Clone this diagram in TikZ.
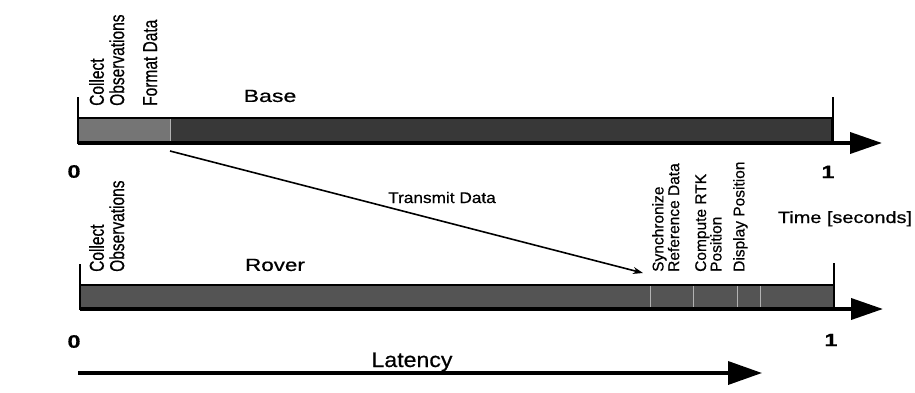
\documentclass[tikz,border=0pt]{standalone}
\usepackage{fontspec}
\setmainfont{Liberation Sans}[FakeBold=0.6]
\usetikzlibrary{arrows.meta,positioning}
\definecolor{barDark}{gray}{0.22}
\definecolor{barMid}{gray}{0.46}
\definecolor{barRover}{gray}{0.33}
\definecolor{barSplit}{gray}{0.7}
\newcommand{\widetext}[2]{\scalebox{#1}[1]{#2}}
\newcommand{\fatstack}[2]{\scalebox{1}[#1]{\begin{tabular}{@{}l@{}}#2\end{tabular}}}

\begin{document}
\begin{tikzpicture}[x=1pt,y=-1pt,
  axis/.style={line width=3.8pt,-{Triangle[length=32pt,width=21pt]}},
  tickline/.style={line width=2pt},
  bar/.style={draw,line width=1.4pt},
  split/.style={barSplit,line width=0.8pt},
  phase/.style={rotate=90,anchor=north west,inner sep=0pt},
  title/.style={inner sep=0pt,font=\fontsize{17.5}{20}\selectfont},
  digit/.style={inner sep=0pt,font=\bfseries\fontsize{18}{20}\selectfont}]
\useasboundingbox (0,0) rectangle (915,393);
% base timeline
\fill[barMid] (78,118) rectangle (170,143); \fill[barDark] (170,118) rectangle (832,143);
\draw[split] (170,119) -- (170,142);
\draw[bar] (78,118) rectangle (832,143);
\coordinate (b0) at (78,143); \coordinate (b1) at (833,143); \coordinate (bend) at (882,143);
\draw[tickline] (b0) -- ++(0,-46); \draw[tickline] (b1) -- ++(0,-46);
\draw[axis] (b0) -- (bend);
\node[phase,font=\fontsize{15.5}{14.6}\selectfont] (basecollect) at (89,106) {\fatstack{1.3}{Collect\\Observations}};
\node[phase,font=\fontsize{15.5}{14.6}\selectfont] (baseformat) at (143,106) {\fatstack{1.3}{Format Data}};
\node[title] (basettl) at (270,96) {\widetext{1.32}{Base}};
\node[digit] (bzero) at (74,171.5) {\widetext{1.3}{0}};
\node[digit] (bone) at (828,172) {\widetext{1.3}{1}};
% rover timeline
\fill[barRover] (80,285) rectangle (834,309);
\foreach \sx in {650,693,737,760} \draw[split] (\sx,286) -- (\sx,308);
\draw[bar] (80,285) rectangle (834,309);
\coordinate (r0) at (80,309); \coordinate (r1) at (834,309); \coordinate (rend) at (883,309);
\draw[tickline] (r0) -- ++(0,-45); \draw[tickline] (r1) -- ++(0,-46);
\draw[axis] (r0) -- (rend);
\node[phase,font=\fontsize{15.5}{14.6}\selectfont] (rovcollect) at (89,272) {\fatstack{1.3}{Collect\\Observations}};
\node[phase,font=\fontsize{15.5}{15}\selectfont] (rovsync) at (652,272) {\fatstack{1}{Synchronize\\Reference Data}};
\node[phase,font=\fontsize{15.5}{14}\selectfont] (rovrtk) at (695,272) {\fatstack{1}{Compute RTK\\Position}};
\node[phase,font=\fontsize{15.5}{15}\selectfont] (rovdisp) at (733,272) {\fatstack{1}{Display Position}};
\node[title] (rovttl) at (275,265) {\widetext{1.28}{Rover}};
\node[digit] (rzero) at (74,341.5) {\widetext{1.3}{0}};
\node[digit] (rone) at (831,340) {\widetext{1.3}{1}};
% data link
\coordinate (sendpt) at (170,151); \coordinate (syncin) at (643,273);
\draw[line width=1.6pt,-{Stealth[length=10pt,width=7pt]}] (sendpt) -- (syncin);
\node[inner sep=0pt,font=\fontsize{15.4}{18}\selectfont] (sendlbl) at (442,197.5) {\widetext{1.12}{Transmit Data}};
\node[inner sep=0pt,anchor=base,font=\fontsize{16.3}{18}\selectfont] (timelbl) at (845,223) {\widetext{1.22}{Time [seconds]}};
% latency
\coordinate (lat0) at (78,373); \coordinate (lat1) at (762,373);
\draw[line width=3.6pt,-{Triangle[length=34pt,width=23pt]}] (lat0) -- (lat1);
\node[inner sep=0pt,anchor=base,font=\fontsize{21}{24}\selectfont] (latlbl) at (412,367) {\widetext{1.1}{Latency}};
\end{tikzpicture}
\end{document}
